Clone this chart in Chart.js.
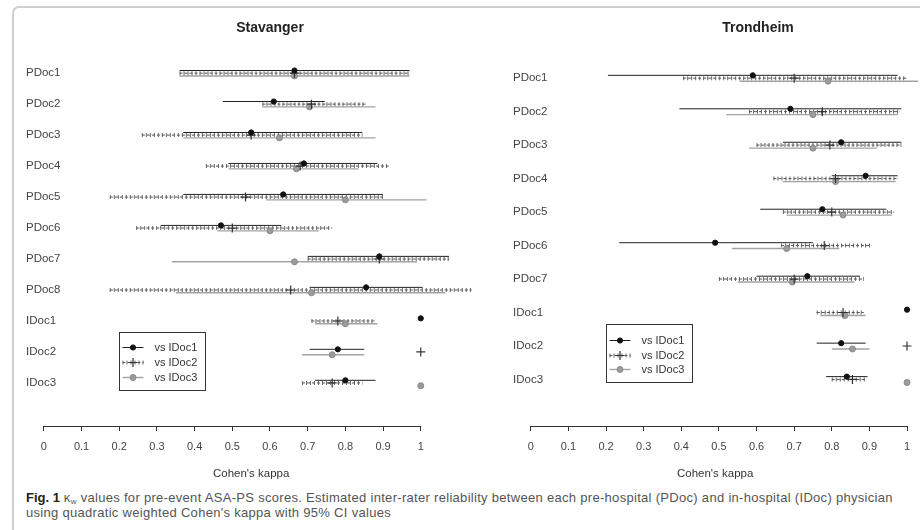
<!DOCTYPE html>
<html>
<head>
<meta charset="utf-8">
<script src="https://cdn.jsdelivr.net/npm/chart.js@4.4.1/dist/chart.umd.min.js"></script>
<style>
  html, body { margin: 0; padding: 0; background: #fff; }
  body { width: 920px; height: 530px; position: relative; overflow: hidden;
         font-family: "Liberation Sans", Arial, Helvetica, sans-serif; }
  #frame { position: absolute; left: 12px; top: 6px; width: 960px; height: 600px;
           border: 2px solid #cfcfcf; border-radius: 7px; box-sizing: border-box; }
  canvas { position: absolute; top: 0; }
  .panel-title { position: absolute; top: 19px; width: 200px; text-align: center;
                 font-weight: bold; font-size: 14px; color: #222; }
  #caption { position: absolute; left: 26px; top: 490px; font-size: 13px; line-height: 15px;
             letter-spacing: 0.3px; color: #555; white-space: nowrap; }
  #caption b { color: #222; letter-spacing: 0; }
  #caption .sub { font-size: 8px; line-height: 0; vertical-align: -2px; }
</style>
</head>
<body>
<div id="frame"></div>
<canvas id="stavanger" width="483" height="490" style="left:0"></canvas>
<canvas id="trondheim" width="444" height="490" style="left:480px"></canvas>
<div class="panel-title" style="left:170px">Stavanger</div>
<div class="panel-title" style="left:658px">Trondheim</div>
<div id="caption"><b>Fig. 1</b> κ<span class="sub">w</span> values for pre-event ASA-PS scores. Estimated inter-rater reliability between each pre-hospital (PDoc) and in-hospital (IDoc) physician<br>using quadratic weighted Cohen's kappa with 95% CI values</div>

<script>
// ---- Data: quadratic weighted kappa with 95% CI, per rater, against each in-hospital doctor ----
const xTicks = [0, 0.1, 0.2, 0.3, 0.4, 0.5, 0.6, 0.7, 0.8, 0.9, 1];
const seriesLabels = ['vs IDoc1', 'vs IDoc2', 'vs IDoc3'];

// Stavanger
const stavRows   = ['PDoc1','PDoc2','PDoc3','PDoc4','PDoc5','PDoc6','PDoc7','PDoc8','IDoc1','IDoc2','IDoc3'];
const stavVs1K   = [0.665, 0.61,  0.55,  0.69,  0.635, 0.47,  0.89,  0.855, 1,    0.78,  0.80];
const stavVs1Lo  = [0.36,  0.475, 0.37,  0.49,  0.37,  0.31,  0.70,  0.705, null, 0.705, 0.72];
const stavVs1Hi  = [0.97,  0.745, 0.845, 0.885, 0.90,  0.63,  1.075, 1.005, null, 0.85,  0.88];
const stavVs2K   = [0.665, 0.71,  0.55,  0.68,  0.535, 0.50,  0.89,  0.655, 0.78, 1,     0.765];
const stavVs2Lo  = [0.36,  0.58,  0.26,  0.43,  0.175, 0.245, 0.70,  0.175, 0.71, null,  0.685];
const stavVs2Hi  = [0.97,  0.855, 0.845, 0.915, 0.90,  0.765, 1.075, 1.135, 0.88, null,  0.845];
const stavVs3K   = [0.665, 0.705, 0.625, 0.67,  0.80,  0.60,  0.665, 0.71,  0.80, 0.765, 1];
const stavVs3Lo  = [0.36,  0.58,  0.37,  0.49,  0.59,  0.46,  0.34,  0.35,  0.72, 0.685, null];
const stavVs3Hi  = [0.97,  0.88,  0.88,  0.835, 1.015, 0.73,  0.99,  1.065, 0.885,0.85,  null];

// Trondheim
const trondRows  = ['PDoc1','PDoc2','PDoc3','PDoc4','PDoc5','PDoc6','PDoc7','IDoc1','IDoc2','IDoc3'];
const trondVs1K  = [0.59,  0.69,  0.825, 0.89,  0.775, 0.49,  0.735, 1,     0.825, 0.84];
const trondVs1Lo = [0.205, 0.395, 0.67,  0.80,  0.61,  0.235, 0.60,  null,  0.76,  0.785];
const trondVs1Hi = [0.975, 0.985, 0.985, 0.975, 0.945, 0.75,  0.875, null,  0.89,  0.895];
const trondVs2K  = [0.70,  0.775, 0.795, 0.81,  0.80,  0.78,  0.70,  0.83,  1,     0.855];
const trondVs2Lo = [0.405, 0.58,  0.60,  0.645, 0.67,  0.665, 0.50,  0.76,  null,  0.80];
const trondVs2Hi = [1.0,   0.98,  0.985, 0.975, 0.965, 0.905, 0.885, 0.885, null,  0.89];
const trondVs3K  = [0.79,  0.75,  0.75,  0.81,  0.83,  0.68,  0.695, 0.835, 0.855, 1];
const trondVs3Lo = [0.555, 0.52,  0.58,  0.67,  0.68,  0.535, 0.55,  0.77,  0.80,  null];
const trondVs3Hi = [1.03,  0.975, 0.92,  0.97,  0.96,  0.82,  0.86,  0.89,  0.90,  null];

// ---- Styling of the three comparison series ----
const seriesStyles = [
  { offset: -0.085, line: { color: '#222', width: 1, dash: [] },
    point: { style: 'circle', radius: 2.6, fill: '#111', stroke: '#111', bw: 1 } },
  { offset: 0, line: { color: '#555', width: 1, dash: [3, 2] },
    hatch: { color: '#6a6a6a', width: 4, dash: [1, 3] },
    point: { style: 'cross', radius: 4.5, fill: '#333', stroke: '#333', bw: 1.2 } },
  { offset: 0.09, line: { color: '#a3a3a3', width: 1.4, dash: [] },
    point: { style: 'circle', radius: 3, fill: '#9c9c9c', stroke: '#8a8a8a', bw: 1 } }
];

function ciSegments(lo, hi, off) {
  const out = [];
  lo.forEach((l, i) => {
    if (l === null) return;
    out.push({ x: l, y: i + off }, { x: hi[i], y: i + off }, { x: null, y: null });
  });
  return out;
}
function estimates(k, off) {
  return k.map((v, i) => ({ x: v, y: i + off }));
}

function buildDatasets(series) {
  const sets = [];
  series.forEach((s, si) => {
    const st = seriesStyles[si];
    sets.push({
      label: seriesLabels[si] + ' CI', showLine: true, spanGaps: false, order: 3,
      data: ciSegments(s.lo, s.hi, st.offset),
      borderColor: st.line.color, borderWidth: st.line.width, borderDash: st.line.dash,
      pointRadius: 0, pointHoverRadius: 0
    });
    if (st.hatch) {
      sets.push({
        label: seriesLabels[si] + ' CI ticks', showLine: true, spanGaps: false, order: 3,
        data: ciSegments(s.lo, s.hi, st.offset),
        borderColor: st.hatch.color, borderWidth: st.hatch.width, borderDash: st.hatch.dash,
        pointRadius: 0, pointHoverRadius: 0
      });
    }
    sets.push({
      label: seriesLabels[si], showLine: false, order: 1,
      data: estimates(s.k, st.offset),
      pointStyle: st.point.style, pointRadius: st.point.radius, pointHoverRadius: st.point.radius,
      pointBackgroundColor: st.point.fill, pointBorderColor: st.point.stroke,
      pointBorderWidth: st.point.bw
    });
  });
  return sets;
}

// Axis baseline drawn only across the tick range (0..1)
const axisSpan = {
  id: 'axisSpan',
  afterDraw(chart) {
    const xs = chart.scales.x, ctx = chart.ctx;
    const y = Math.round(xs.top) + 0.5;
    ctx.save();
    ctx.strokeStyle = '#333'; ctx.lineWidth = 1;
    ctx.beginPath();
    ctx.moveTo(xs.getPixelForValue(xTicks[0]) - 0.5, y);
    ctx.lineTo(xs.getPixelForValue(xTicks[xTicks.length - 1]) + 0.5, y);
    ctx.stroke();
    ctx.restore();
  }
};

// Boxed legend inside the plot area
function drawSample(ctx, st, x0, x1, y) {
  ctx.save();
  ctx.strokeStyle = st.line.color; ctx.lineWidth = st.line.width; ctx.setLineDash(st.line.dash);
  ctx.beginPath(); ctx.moveTo(x0, y); ctx.lineTo(x1, y); ctx.stroke();
  if (st.hatch) {
    ctx.strokeStyle = st.hatch.color; ctx.lineWidth = st.hatch.width; ctx.setLineDash(st.hatch.dash);
    ctx.beginPath(); ctx.moveTo(x0, y); ctx.lineTo(x1, y); ctx.stroke();
  }
  ctx.setLineDash([]);
  ctx.fillStyle = st.point.fill; ctx.strokeStyle = st.point.stroke; ctx.lineWidth = st.point.bw;
  Chart.helpers.drawPoint(ctx, { pointStyle: st.point.style, radius: st.point.radius,
    rotation: 0, borderWidth: st.point.bw }, (x0 + x1) / 2, y);
  ctx.restore();
}
const insetLegend = {
  id: 'insetLegend',
  afterDraw(chart, args, o) {
    const ctx = chart.ctx;
    const left = Math.round(chart.scales.x.getPixelForValue(o.atValue)) + 0.5;
    const top = o.top + 0.5;
    ctx.save();
    ctx.strokeStyle = '#333'; ctx.lineWidth = 1;
    ctx.strokeRect(left, top, o.width, o.height);
    seriesLabels.forEach((lab, i) => {
      const y = Math.round(o.top + o.firstRow + i * o.rowGap) + 0.5;
      drawSample(ctx, seriesStyles[i], left + 3, left + 24, y);
      ctx.fillStyle = '#333';
      ctx.font = '11px "Liberation Sans", Arial, sans-serif';
      ctx.textBaseline = 'middle'; ctx.textAlign = 'left';
      ctx.fillText(lab, left + 35, y);
    });
    ctx.restore();
  }
};

function makePanel(id, rows, series, opt) {
  return new Chart(document.getElementById(id), {
    type: 'scatter',
    data: { datasets: buildDatasets(series) },
    plugins: [axisSpan, insetLegend],
    options: {
      responsive: false, animation: false, events: [],
      layout: { padding: opt.padding },
      plugins: {
        legend: { display: false }, tooltip: { enabled: false },
        insetLegend: opt.legend
      },
      scales: {
        x: {
          type: 'linear', min: -0.05, max: opt.xMax,
          afterBuildTicks: s => { s.ticks = xTicks.map(v => ({ value: v })); },
          ticks: { color: '#444', font: { size: 11 }, padding: 9, autoSkip: false, maxRotation: 0,
                   callback: v => String(Math.round(v * 10) / 10) },
          grid: { display: true, drawOnChartArea: false, drawTicks: true, tickLength: 5, color: '#333' },
          border: { display: false },
          title: { display: true, text: "Cohen's kappa", color: '#333', font: { size: 11.5 },
                   padding: { top: 5, bottom: 4 } }
        },
        y: {
          type: 'linear', reverse: true, min: opt.yMin, max: opt.yMax,
          afterBuildTicks: s => { s.ticks = rows.map((_, i) => ({ value: i })); },
          ticks: { mirror: true, padding: 1, color: '#444', font: { size: 11.5 },
                   callback: v => rows[v] },
          grid: { display: false, drawTicks: false },
          border: { display: false }
        }
      }
    }
  });
}

makePanel('stavanger', stavRows, [
  { k: stavVs1K, lo: stavVs1Lo, hi: stavVs1Hi },
  { k: stavVs2K, lo: stavVs2Lo, hi: stavVs2Hi },
  { k: stavVs3K, lo: stavVs3Lo, hi: stavVs3Hi }
], { xMax: 1.15, yMin: -1.07, yMax: 11.39,
     padding: { left: 23, right: 3, top: 40, bottom: 5 },
     legend: { atValue: 0.2, top: 332, width: 86, height: 58, firstRow: 15, rowGap: 15 } });

makePanel('trondheim', trondRows, [
  { k: trondVs1K, lo: trondVs1Lo, hi: trondVs1Hi },
  { k: trondVs2K, lo: trondVs2Lo, hi: trondVs2Hi },
  { k: trondVs3K, lo: trondVs3Lo, hi: trondVs3Hi }
], { xMax: 1.03, yMin: -1.14, yMax: 10.39,
     padding: { left: 30, right: 2, top: 40, bottom: 5 },
     legend: { atValue: 0.2, top: 324, width: 86, height: 58, firstRow: 16, rowGap: 14.5 } });
</script>
</body>
</html>
